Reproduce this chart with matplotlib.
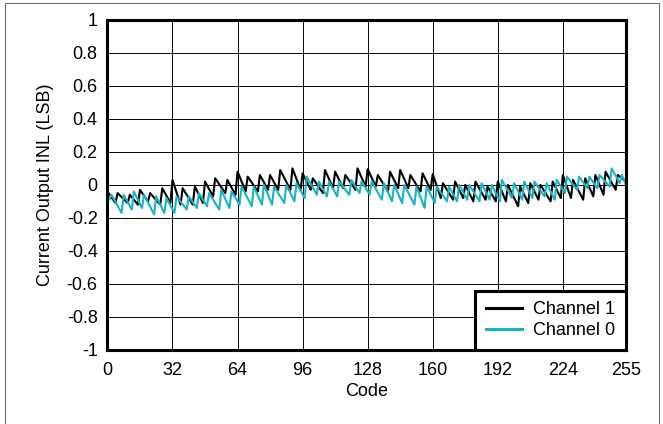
import numpy as np
import matplotlib
matplotlib.use("Agg")
import matplotlib.pyplot as plt
from matplotlib.lines import Line2D

# INL, one value per code (0..255)
channel_1 = [
    -0.040, -0.058, -0.075, -0.093, -0.110,
    -0.050, -0.062, -0.074, -0.086, -0.098, -0.110,
    -0.060, -0.075, -0.090, -0.105, -0.120,
    -0.030, -0.048, -0.065, -0.083, -0.100,
    -0.050, -0.064, -0.078, -0.092, -0.106, -0.120,
    -0.020, -0.043, -0.065, -0.088, -0.110,
    0.030, -0.008, -0.045, -0.083, -0.120,
    -0.020, -0.040, -0.060, -0.080, -0.100, -0.120,
    -0.010, -0.035, -0.060, -0.085, -0.110,
    0.020, -0.003, -0.025, -0.048, -0.070,
    0.040, 0.022, 0.004, -0.014, -0.032, -0.050,
    0.030, 0.008, -0.015, -0.038, -0.060,
    0.080, 0.050, 0.020, -0.010, -0.040,
    0.050, 0.032, 0.014, -0.004, -0.022, -0.040,
    0.060, 0.038, 0.015, -0.008, -0.030,
    0.060, 0.038, 0.015, -0.008, -0.030,
    0.090, 0.066, 0.042, 0.018, -0.006, -0.030,
    0.100, 0.068, 0.035, 0.003, -0.030,
    0.070, 0.045, 0.020, -0.005, -0.030,
    0.040, 0.022, 0.004, -0.014, -0.032, -0.050,
    0.090, 0.063, 0.035, 0.008, -0.020,
    0.080, 0.055, 0.030, 0.005, -0.020,
    0.060, 0.042, 0.024, 0.006, -0.012, -0.030,
    0.100, 0.073, 0.045, 0.018, -0.010,
    0.095, 0.069, 0.043, 0.016, -0.010,
    0.060, 0.040, 0.020, 0.000, -0.020, -0.040,
    0.080, 0.055, 0.030, 0.005, -0.020,
    0.090, 0.063, 0.035, 0.008, -0.020,
    0.060, 0.040, 0.020, 0.000, -0.020, -0.040,
    0.070, 0.045, 0.020, -0.005, -0.030,
    0.065, 0.029, -0.008, -0.044, -0.080,
    0.010, -0.010, -0.030, -0.050, -0.070, -0.090,
    0.020, -0.005, -0.030, -0.055, -0.080,
    0.000, -0.025, -0.050, -0.075, -0.100,
    0.020, -0.002, -0.024, -0.046, -0.068, -0.090,
    -0.010, -0.033, -0.055, -0.078, -0.100,
    0.020, -0.010, -0.040, -0.070, -0.100,
    0.000, -0.026, -0.052, -0.078, -0.104, -0.130,
    -0.010, -0.035, -0.060, -0.085, -0.110,
    0.010, -0.015, -0.040, -0.065, -0.090,
    0.000, -0.020, -0.040, -0.060, -0.080, -0.100,
    0.020, -0.005, -0.030, -0.055, -0.080,
    0.060, 0.025, -0.010, -0.045, -0.080,
    0.030, 0.006, -0.018, -0.042, -0.066, -0.090,
    0.040, 0.013, -0.015, -0.043, -0.070,
    0.060, 0.030, 0.000, -0.030, -0.060,
    0.080, 0.058, 0.036, 0.014, -0.008, -0.030,
    0.060, 0.050, 0.040, 0.030, 0.020,
]

channel_0 = [
    -0.040, -0.090,
    -0.060, -0.082, -0.104, -0.126, -0.148, -0.170,
    -0.060, -0.083, -0.105, -0.128, -0.150,
    -0.040, -0.065, -0.090, -0.115, -0.140,
    -0.060, -0.084, -0.108, -0.132, -0.156, -0.180,
    -0.070, -0.095, -0.120, -0.145, -0.170,
    -0.080, -0.103, -0.125, -0.148, -0.170,
    -0.070, -0.086, -0.102, -0.118, -0.134, -0.150,
    -0.070, -0.088, -0.105, -0.123, -0.140,
    -0.050, -0.070, -0.090, -0.110, -0.130,
    -0.050, -0.070, -0.090, -0.110, -0.130, -0.150,
    -0.030, -0.058, -0.085, -0.113, -0.140,
    -0.040, -0.060, -0.080, -0.100, -0.120,
    -0.010, -0.034, -0.058, -0.082, -0.106, -0.130,
    -0.010, -0.038, -0.065, -0.093, -0.120,
    0.000, -0.030, -0.060, -0.090, -0.120,
    -0.010, -0.030, -0.050, -0.070, -0.090, -0.110,
    0.000, -0.025, -0.050, -0.075, -0.100,
    0.010, -0.013, -0.035, -0.058, -0.080,
    0.050, 0.028, 0.006, -0.016, -0.038, -0.060,
    0.020, -0.003, -0.025, -0.048, -0.070,
    0.020, -0.003, -0.025, -0.048, -0.070,
    0.020, 0.004, -0.012, -0.028, -0.044, -0.060,
    0.030, 0.010, -0.010, -0.030, -0.050,
    0.020, 0.000, -0.020, -0.040, -0.060,
    0.020, -0.002, -0.024, -0.046, -0.068, -0.090,
    0.010, -0.018, -0.045, -0.073, -0.100,
    0.000, -0.028, -0.055, -0.083, -0.110,
    0.000, -0.024, -0.048, -0.072, -0.096, -0.120,
    -0.010, -0.043, -0.075, -0.108, -0.140,
    -0.010, -0.035, -0.060, -0.085, -0.110,
    -0.010, -0.028, -0.046, -0.064, -0.082, -0.100,
    -0.010, -0.033, -0.055, -0.078, -0.100,
    0.000, -0.023, -0.045, -0.068, -0.090,
    0.000, -0.020, -0.040, -0.060, -0.080, -0.100,
    0.010, -0.015, -0.040, -0.065, -0.090,
    0.000, -0.025, -0.050, -0.075, -0.100,
    0.030, 0.008, -0.014, -0.036, -0.058, -0.080,
    0.010, -0.015, -0.040, -0.065, -0.090,
    0.020, -0.005, -0.030, -0.055, -0.080,
    0.020, 0.002, -0.016, -0.034, -0.052, -0.070,
    0.010, -0.015, -0.040, -0.065, -0.090,
    0.030, 0.010, -0.010, -0.030, -0.050,
    0.050, 0.034, 0.018, 0.002, -0.014, -0.030,
    0.050, 0.033, 0.015, -0.003, -0.020,
    0.050, 0.033, 0.015, -0.003, -0.020,
    0.060, 0.046, 0.032, 0.018, 0.004, -0.010,
    0.100, 0.078, 0.055, 0.033, 0.010,
    0.060, 0.030, 0.000,
]

codes = np.arange(len(channel_1))
x_ticks = [0, 32, 64, 96, 128, 160, 192, 224, 255]
y_ticks = [-1, -0.8, -0.6, -0.4, -0.2, 0, 0.2, 0.4, 0.6, 0.8, 1]
y_tick_labels = ["-1", "-0.8", "-0.6", "-0.4", "-0.2", "0", "0.2", "0.4", "0.6", "0.8", "1"]

plt.rcParams["font.family"] = ["Liberation Sans", "DejaVu Sans"]
plt.rcParams["font.size"] = 13

fig = plt.figure(figsize=(6.63, 4.24), dpi=100)
# thin grey frame round the figure (left, top and right edges only)
border = Line2D([0.008, 0.008, 0.994, 0.994], [-0.01, 0.993, 0.993, -0.01],
                transform=fig.transFigure, color="#6e6e6e", linewidth=0.8)
fig.lines.append(border)

ax = fig.add_axes([0.162, 0.175, 0.782, 0.778])

ax.plot(codes, channel_1, color="black", linewidth=1.5, label="Channel 1")
ax.plot(codes, channel_0, color="#17b4c6", linewidth=1.5, label="Channel 0")

ax.set_xlim(0, 255)
ax.set_ylim(-1, 1)
ax.set_xticks(x_ticks)
ax.set_yticks(y_ticks)
ax.set_yticklabels(y_tick_labels)
ax.tick_params(axis="y", length=0, pad=7)
ax.tick_params(axis="x", length=0, pad=9)
ax.grid(True, color="black", linewidth=0.7)
for spine in ax.spines.values():
    spine.set_linewidth(2.2)

ax.set_xlabel("Code", labelpad=3)
ax.set_ylabel("Current Output INL (LSB)", labelpad=9)

leg = ax.legend(loc="lower right", fancybox=False, framealpha=1, edgecolor="black",
                borderaxespad=0, handlelength=2.0, handletextpad=0.6,
                borderpad=0.6, labelspacing=0.2)
leg.get_frame().set_linewidth(2.2)
for h in leg.get_lines():
    h.set_linewidth(2.2)

fig.savefig("out.png", dpi=100)
